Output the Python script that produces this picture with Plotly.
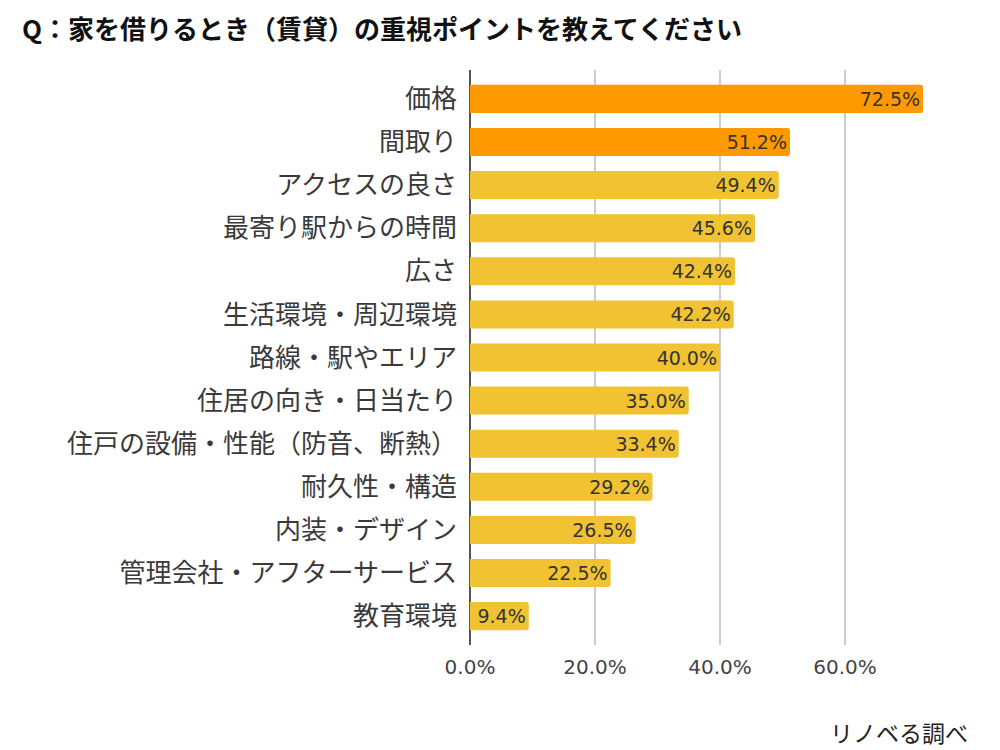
import plotly.graph_objects as go

categories = ["価格", "間取り", "アクセスの良さ", "最寄り駅からの時間", "広さ",
              "生活環境・周辺環境", "路線・駅やエリア", "住居の向き・日当たり",
              "住戸の設備・性能（防音、断熱）", "耐久性・構造", "内装・デザイン",
              "管理会社・アフターサービス", "教育環境"]
values = [72.5, 51.2, 49.4, 45.6, 42.4, 42.2, 40.0, 35.0, 33.4, 29.2, 26.5, 22.5, 9.4]
tick_vals = [0, 20, 40, 60, 80]
tick_text = ["0.0%", "20.0%", "40.0%", "60.0%", ""]

ORANGE = "#FF9900"
YELLOW = "#F1C232"
colors = [ORANGE if i < 2 else YELLOW for i in range(len(values))]

font_jp = "Noto Sans CJK JP, Noto Sans, sans-serif"
font_num = "DejaVu Sans, Arial, sans-serif"

fig = go.Figure(go.Bar(
    x=values, y=categories, orientation="h",
    marker=dict(color=colors, cornerradius=3, line=dict(width=0)),
    text=[f"{v:.1f}%" for v in values],
    textposition="inside", insidetextanchor="end",
    textfont=dict(color="#333333", size=19, family=font_num),
    constraintext="none",
    hoverinfo="skip",
))

n = len(categories)
fig.update_layout(
    width=1000, height=750,
    margin=dict(l=462, r=38, t=62, b=113),
    paper_bgcolor="white", plot_bgcolor="white",
    bargap=0.35,
    showlegend=False,
    font=dict(family=font_jp, color="#333333"),
    title=dict(text="<b>Q：家を借りるとき（賃貸）の重視ポイントを教えてください</b>",
               x=0.014, xanchor="left", y=0.971, yanchor="middle",
               font=dict(size=26, color="#111111", family=font_jp)),
    xaxis=dict(range=[0, 80], tickvals=tick_vals, ticktext=tick_text,
               showgrid=True, gridcolor="#cccccc", gridwidth=2,
               zeroline=True, zerolinecolor="#555555", zerolinewidth=2,
               tickfont=dict(size=20, color="#444444", family=font_num),
               ticks="", showline=False, fixedrange=True, automargin=False,
               ticklabelstandoff=8),
    yaxis=dict(range=[n - 1 + 0.67, -0.67], tickfont=dict(size=26, color="#3a3a3a", family=font_jp),
               ticks="", ticklabelstandoff=12, showline=False, showgrid=False,
               automargin=False),
)
fig.add_annotation(text="リノベる調べ", xref="paper", yref="paper",
                   x=1.0, y=-0.152, xanchor="right", yanchor="middle",
                   showarrow=False, font=dict(size=23, color="#222222", family=font_jp))

fig.write_html("out.html")
